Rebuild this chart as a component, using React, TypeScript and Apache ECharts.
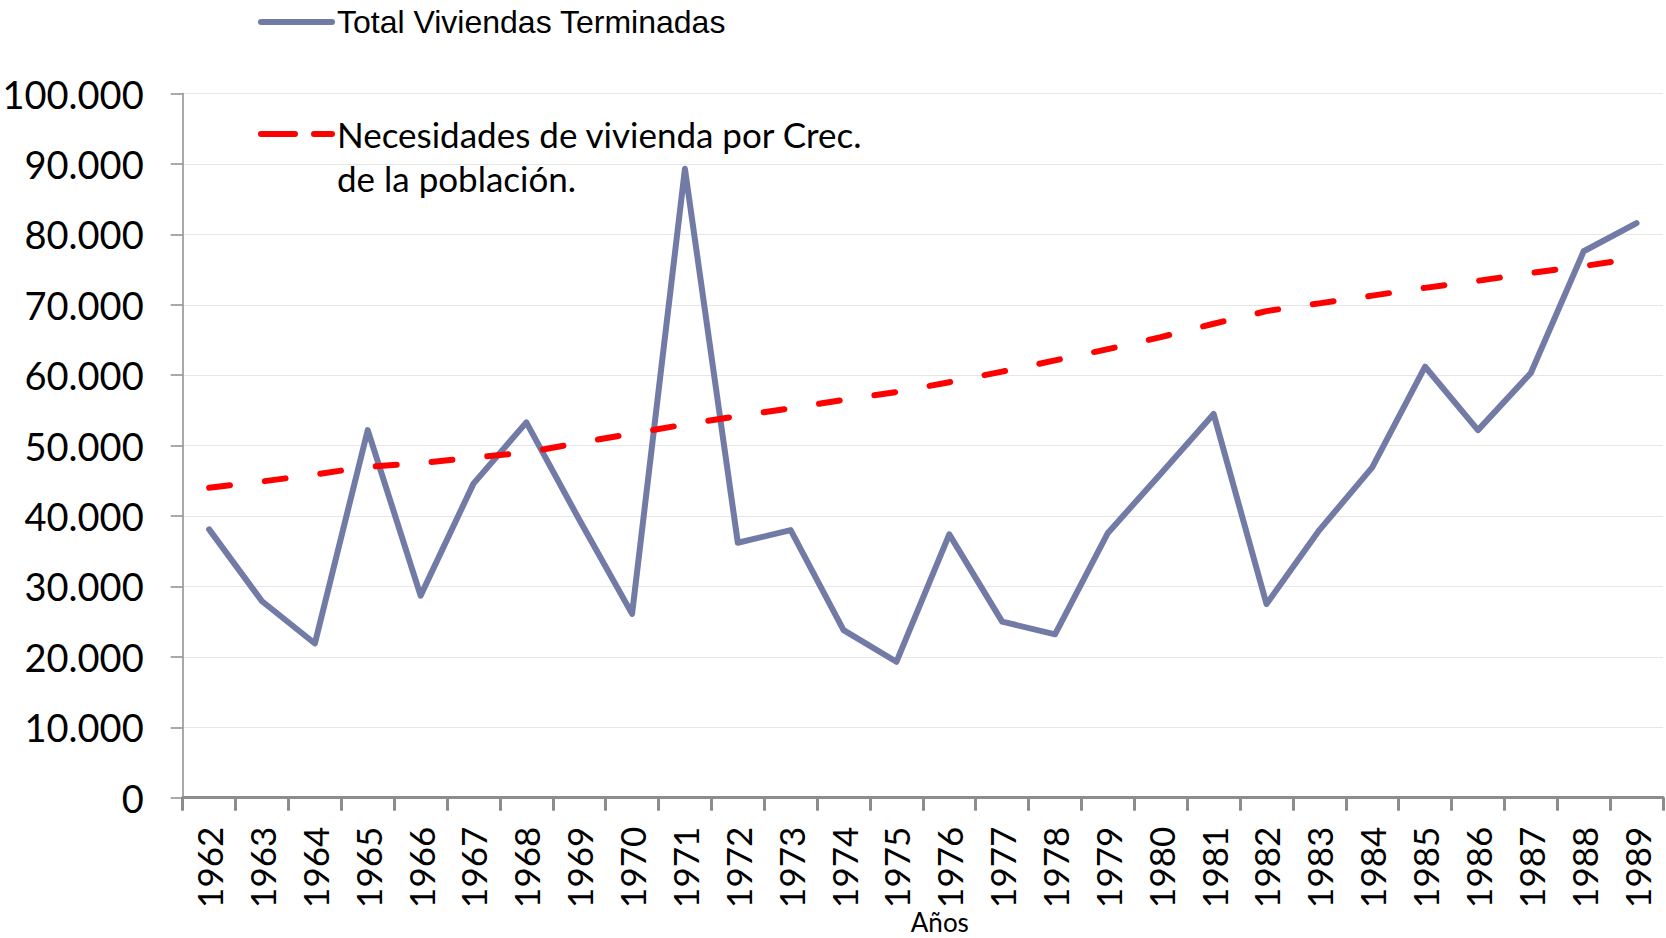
import React, { useEffect, useRef } from "react";
import * as echarts from "echarts";

const years = [
  "1962", "1963", "1964", "1965", "1966", "1967", "1968", "1969", "1970", "1971",
  "1972", "1973", "1974", "1975", "1976", "1977", "1978", "1979", "1980", "1981",
  "1982", "1983", "1984", "1985", "1986", "1987", "1988", "1989",
];

const totalViviendas = [
  38100, 27900, 21900, 52200, 28700, 44600, 53300, 39500, 26100, 89300,
  36200, 38000, 23800, 19300, 37400, 25000, 23200, 37600, 46000, 54500,
  27500, 38000, 46900, 61200, 52200, 60300, 77600, 81600,
];

const necesidades = [
  44000, 44900, 45900, 47000, 47500, 48300, 49000, 50400, 51700, 53000,
  54200, 55300, 56500, 57600, 59000, 60500, 62100, 63700, 65400, 67300,
  69100, 70200, 71300, 72400, 73400, 74500, 75500, 76600,
];

const seriesNames = [
  "Total Viviendas Terminadas",
  "Necesidades de vivienda por Crec. de la población.",
];

const LEGEND2_TEXT = "\nNecesidades de vivienda por Crec.\nde la población.";

const SANS = "'Liberation Sans', Arial, sans-serif";
const NORMAL = "Lato, 'Open Sans', sans-serif";

function fmtThousands(v: number): string {
  const s = Math.round(v).toString();
  return s.replace(/\B(?=(\d{3})+(?!\d))/g, ".");
}

export default function App() {
  const ref = useRef<HTMLDivElement>(null);

  useEffect(() => {
    if (!ref.current) return;
    const chart = echarts.init(ref.current, undefined, { renderer: "svg" });
    const blue = "#717BA6";
    const red = "#FF0000";
    const axisGray = "#8C8C8C";

    chart.setOption({
      animation: false,
      backgroundColor: "#FFFFFF",
      grid: {
        left: 182.7,
        right: 3,
        top: 93.5,
        bottom: 140.3,
        containLabel: false,
        outerBoundsMode: "none",
      },
      legend: [
        {
          data: [seriesNames[0]],
          left: 258,
          top: 2,
          padding: 0,
          itemWidth: 71,
          itemHeight: 14,
          itemGap: 0,
          itemStyle: { opacity: 0 },
          lineStyle: { width: 6, color: blue, cap: "round" },
          textStyle: {
            fontFamily: SANS,
            fontSize: 32,
            color: "#000",
            lineHeight: 40,
          },
        },
        {
          data: [seriesNames[1]],
          left: 258,
          top: 68,
          padding: 0,
          itemWidth: 71,
          itemHeight: 14,
          itemGap: 0,
          itemStyle: { opacity: 0 },
          lineStyle: { width: 6, color: red, type: [34, 19], cap: "round" },
          formatter: () => LEGEND2_TEXT,
          textStyle: {
            fontFamily: NORMAL,
            fontSize: 35,
            color: "#000",
            lineHeight: 44,
          },
        },
      ],
      xAxis: {
        type: "category",
        data: years,
        boundaryGap: true,
        name: "Años",
        nameLocation: "middle",
        nameGap: 111,
        nameMoveOverlap: false,
        nameTextStyle: {
          fontFamily: NORMAL,
          fontSize: 26,
          lineHeight: 26,
          color: "#000",
          padding: [0, 0, 0, 34],
        },
        axisLine: { show: true, lineStyle: { color: axisGray, width: 3 } },
        axisTick: {
          show: true,
          alignWithLabel: false,
          length: 13,
          lineStyle: { color: axisGray, width: 3 },
        },
        axisLabel: {
          rotate: 90,
          margin: 29,
          fontFamily: NORMAL,
          fontSize: 35,
          color: "#000",
          interval: 0,
        },
        splitLine: { show: false },
      },
      yAxis: {
        type: "value",
        min: 0,
        max: 100000,
        interval: 10000,
        axisLine: { show: true, lineStyle: { color: axisGray, width: 1.5 } },
        axisTick: { show: true, length: 12, lineStyle: { color: axisGray, width: 1.5 } },
        axisLabel: {
          margin: 39,
          fontFamily: NORMAL,
          fontSize: 38,
          color: "#000",
          formatter: (v: number) => fmtThousands(v),
        },
        splitLine: { show: true, lineStyle: { color: "#E6E6E6", width: 1 } },
      },
      series: [
        {
          name: seriesNames[0],
          type: "line",
          data: totalViviendas,
          symbol: "none",
          lineStyle: { color: blue, width: 6, cap: "round", join: "round" },
          itemStyle: { color: blue },
          z: 3,
        },
        {
          name: seriesNames[1],
          type: "line",
          data: necesidades,
          symbol: "none",
          lineStyle: {
            color: red,
            width: 6,
            type: [21, 35],
            cap: "round",
            join: "round",
          },
          itemStyle: { color: red },
          z: 4,
        },
      ],
    });

    return () => chart.dispose();
  }, []);

  return (
    <div
      ref={ref}
      style={{ position: "fixed", left: 0, top: 0, width: 1666, height: 938 }}
    />
  );
}
